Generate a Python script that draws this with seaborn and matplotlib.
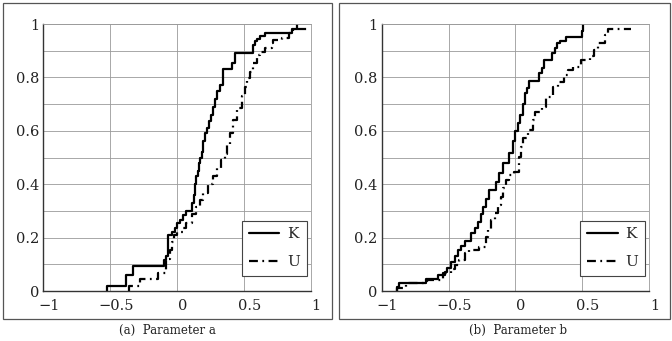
import numpy as np
import pandas as pd
import matplotlib
matplotlib.use("Agg")
import matplotlib.pyplot as plt
import matplotlib.transforms as mtrans
from matplotlib.patches import Rectangle
import seaborn as sns

# step curves (x where the ECDF jumps, y after the jump)
K_a_x = [-0.52, -0.52, -0.38, -0.33, -0.10, -0.085, -0.065, -0.04, -0.015, 0.0, 0.02, 0.045,
         0.07, 0.11, 0.125, 0.135, 0.145, 0.155, 0.165, 0.175, 0.185, 0.195, 0.21, 0.225,
         0.24, 0.255, 0.27, 0.285, 0.30, 0.32, 0.345, 0.41, 0.435, 0.57, 0.58, 0.595, 0.62,
         0.66, 0.86, 0.895]
K_a_y = [0.0, 0.017, 0.06, 0.095, 0.115, 0.13, 0.21, 0.222, 0.235, 0.255, 0.267, 0.285,
         0.30, 0.33, 0.36, 0.40, 0.43, 0.45, 0.48, 0.50, 0.52, 0.56, 0.59, 0.61,
         0.635, 0.66, 0.69, 0.72, 0.75, 0.77, 0.83, 0.855, 0.89, 0.92, 0.935, 0.945, 0.955,
         0.965, 0.98, 1.0]

U_a_x = [-0.36, -0.36, -0.28, -0.14, -0.08, -0.05, -0.035, -0.02, 0.0, 0.045, 0.07, 0.11,
         0.145, 0.17, 0.195, 0.235, 0.27, 0.30, 0.33, 0.36, 0.375, 0.395, 0.42, 0.445,
         0.485, 0.51, 0.52, 0.545, 0.57, 0.595, 0.62, 0.66, 0.71, 0.72, 0.785, 0.835, 0.87, 0.98]
U_a_y = [0.0, 0.017, 0.045, 0.066, 0.12, 0.155, 0.185, 0.21, 0.222, 0.235, 0.255, 0.29,
         0.315, 0.34, 0.367, 0.40, 0.43, 0.46, 0.49, 0.515, 0.547, 0.59, 0.64, 0.685,
         0.73, 0.765, 0.797, 0.82, 0.853, 0.884, 0.896, 0.909, 0.928, 0.94, 0.946, 0.965, 0.98, 0.98]

K_b_x = [-0.885, -0.885, -0.87, -0.67, -0.58, -0.53, -0.51, -0.48, -0.455, -0.43, -0.405,
         -0.38, -0.33, -0.305, -0.28, -0.26, -0.245, -0.22, -0.195, -0.145, -0.12, -0.095,
         -0.05, -0.02, -0.005, 0.02, 0.035, 0.055, 0.07, 0.085, 0.105, 0.18, 0.195, 0.21,
         0.27, 0.295, 0.31, 0.33, 0.38, 0.495, 0.505]
K_b_y = [0.0, 0.016, 0.031, 0.044, 0.06, 0.07, 0.085, 0.11, 0.13, 0.154, 0.17,
         0.189, 0.216, 0.235, 0.26, 0.29, 0.316, 0.345, 0.378, 0.41, 0.441, 0.478,
         0.516, 0.56, 0.60, 0.628, 0.66, 0.70, 0.74, 0.76, 0.785, 0.815, 0.835, 0.865,
         0.89, 0.91, 0.928, 0.935, 0.953, 0.975, 1.0]

U_b_x = [-0.885, -0.885, -0.82, -0.66, -0.545, -0.48, -0.455, -0.42, -0.38, -0.345, -0.275,
         -0.22, -0.205, -0.18, -0.155, -0.13, -0.105, -0.09, -0.07, -0.045, -0.01, 0.025,
         0.045, 0.06, 0.095, 0.13, 0.15, 0.2, 0.23, 0.28, 0.32, 0.36, 0.395, 0.43, 0.49,
         0.56, 0.585, 0.62, 0.67, 0.69, 0.865]
U_b_y = [0.0, 0.012, 0.03, 0.041, 0.066, 0.081, 0.097, 0.116, 0.141, 0.154, 0.166,
         0.203, 0.228, 0.266, 0.291, 0.322, 0.353, 0.385, 0.416, 0.434, 0.447, 0.503,
         0.54, 0.572, 0.603, 0.64, 0.672, 0.69, 0.728, 0.765, 0.784, 0.81, 0.828, 0.84, 0.865,
         0.88, 0.903, 0.928, 0.958, 0.982, 0.982]

x_ticks = [-1, -0.5, 0, 0.5, 1]
x_labels = ["\u22121", "\u22120.5", "0", "0.5", "1"]
y_ticks = [0, 0.2, 0.4, 0.6, 0.8, 1]
y_labels = ["0", "0.2", "0.4", "0.6", "0.8", "1"]
captions = ["(a)  Parameter a", "(b)  Parameter b"]

sns.set_theme(style="white")
plt.rcParams['font.family'] = ['DejaVu Serif']

fig = plt.figure(figsize=(6.72, 3.41), dpi=100)
ax_a = fig.add_axes([0.0644, 0.1466, 0.398, 0.783])
ax_b = fig.add_axes([0.568, 0.1466, 0.398, 0.783])

dashdot = (0, (4, 2, 0.8, 2))
panels = [(ax_a, K_a_x, K_a_y, U_a_x, U_a_y), (ax_b, K_b_x, K_b_y, U_b_x, U_b_y)]

for ax, kx, ky, ux, uy in panels:
    sns.lineplot(x=kx, y=ky, ax=ax, color="black", lw=1.6, drawstyle="steps-post",
                 sort=False, estimator=None, label="K")
    sns.lineplot(x=ux, y=uy, ax=ax, color="black", lw=1.6, drawstyle="steps-post",
                 sort=False, estimator=None, label="U", linestyle=dashdot)
    ax.set_xlim(-1, 1)
    ax.set_ylim(0, 1)
    ax.set_xticks(x_ticks)
    ax.set_xticklabels(x_labels)
    ax.set_yticks(y_ticks)
    ax.set_yticklabels(y_labels)
    ax.set_yticks(np.arange(0, 1.01, 0.1), minor=True)
    ax.grid(True, which="both", color="#9a9a9a", lw=0.6)
    ax.tick_params(length=0, labelsize=10.5, colors="#222222")
    ax.tick_params(axis="x", pad=6)
    ax.tick_params(axis="y", pad=3)
    for lab in ax.get_xticklabels():
        lab.set_transform(lab.get_transform() + mtrans.ScaledTranslation(4 / 72, 0, fig.dpi_scale_trans))
    for side in ["left", "bottom"]:
        ax.spines[side].set_color("#333333")
        ax.spines[side].set_linewidth(1.0)
    for side in ["top", "right"]:
        ax.spines[side].set_color("#9a9a9a")
        ax.spines[side].set_linewidth(0.6)
    ax.set_xlabel("")
    ax.set_ylabel("")
    leg = ax.legend(loc="lower right", bbox_to_anchor=(0.985, 0.056), borderaxespad=0,
                    fontsize=11, handlelength=2.0, labelspacing=0.9, handletextpad=0.5,
                    borderpad=0.45, fancybox=False, framealpha=1, edgecolor="#444444")
    leg.get_frame().set_linewidth(0.8)

# panel boxes and captions
for x0, w, cx, cap in [(2.5, 329.5, 167, captions[0]), (338.5, 331, 518, captions[1])]:
    fig.add_artist(Rectangle((x0 / 672, 22 / 341), w / 672, 316 / 341, transform=fig.transFigure,
                             fill=False, edgecolor="#555555", lw=0.9))
    fig.text(cx / 672, 0.032, cap, ha="center", va="center", fontsize=8.5, color="#222222")

fig.savefig("out.png", dpi=100)
